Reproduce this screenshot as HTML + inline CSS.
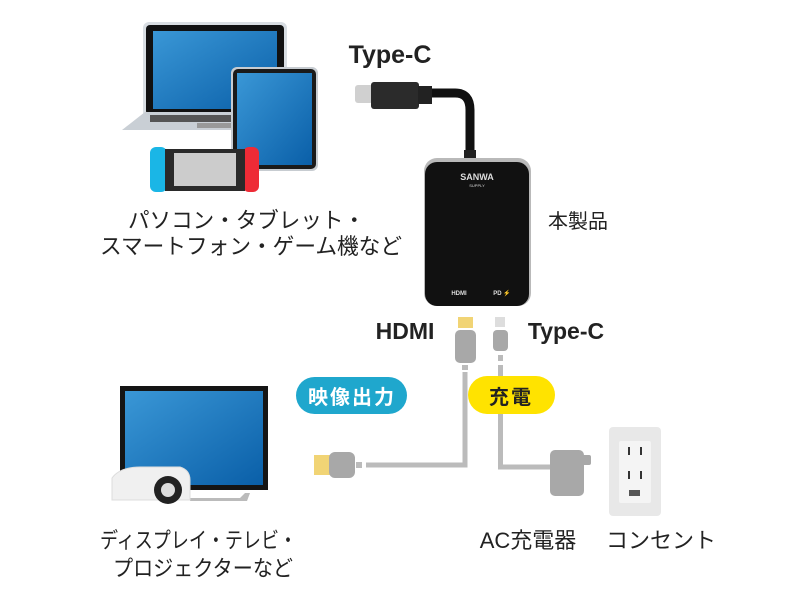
<!DOCTYPE html>
<html><head><meta charset="utf-8"><style>
body{margin:0;background:#fff}
svg{display:block}
text{font-family:"Liberation Sans","Noto Sans CJK JP",sans-serif;fill:#222}
</style></head><body>
<svg width="800" height="600" viewBox="0 0 800 600" xmlns="http://www.w3.org/2000/svg">
<defs>
<linearGradient id="bl" x1="0" y1="0" x2="1" y2="1"><stop offset="0" stop-color="#3a97d6"/><stop offset="1" stop-color="#0a5fa8"/></linearGradient>
</defs>
<!-- laptop -->
<rect x="143" y="22" width="144" height="96" rx="6" fill="#d8dde2"/>
<rect x="146" y="25" width="138" height="90" rx="4" fill="#111"/>
<rect x="153" y="31" width="124" height="78" fill="url(#bl)"/>
<path d="M145 112 L285 112 L300 130 L122 130 Z" fill="#c9cfd5"/>
<rect x="150" y="115" width="120" height="7" fill="#555"/>
<rect x="197" y="123" width="34" height="5" fill="#999"/>
<!-- tablet -->
<rect x="231" y="67" width="87" height="104" rx="6" fill="#c7ccd1"/>
<rect x="233" y="69" width="83" height="100" rx="5" fill="#1a1a1a"/>
<rect x="237" y="73" width="75" height="92" fill="url(#bl)"/>
<!-- switch -->
<rect x="150" y="147" width="17" height="45" rx="6" fill="#1ab6e6"/>
<rect x="243" y="147" width="16" height="45" rx="6" fill="#ee2b36"/>
<rect x="165" y="149" width="80" height="42" fill="#2a2a2a"/>
<rect x="174" y="153" width="62" height="33" fill="#ccc"/>
<!-- type-c cable -->
<path d="M418 93 L455 93 Q470 93 470 110 L470 160" stroke="#111" stroke-width="9" fill="none"/>
<rect x="355" y="85" width="18" height="18" rx="3" fill="#d0d0d0"/>
<rect x="371" y="82" width="48" height="27" rx="3" fill="#2b2b2b"/>
<rect x="418" y="86" width="14" height="18" fill="#222"/>
<rect x="464" y="150" width="12" height="12" fill="#222"/>
<!-- device -->
<rect x="424" y="158" width="107" height="148" rx="13" fill="#b9b9b9"/>
<rect x="425" y="162" width="104" height="144" rx="12" fill="#111"/>
<text x="477" y="180" font-size="9" font-weight="bold" style="fill:#ddd" text-anchor="middle">SANWA</text>
<text x="477" y="187" font-size="4" style="fill:#ddd" text-anchor="middle">SUPPLY</text>
<text x="459" y="295" font-size="6" font-weight="bold" style="fill:#ddd" text-anchor="middle">HDMI</text>
<text x="502" y="295" font-size="6" font-weight="bold" style="fill:#ddd" text-anchor="middle">PD ⚡</text>
<!-- labels top -->
<text x="390" y="63" font-size="25" font-weight="bold" text-anchor="middle">Type-C</text>
<text x="578" y="228" font-size="20" text-anchor="middle">本製品</text>
<text x="128" y="228" font-size="22" textLength="237" lengthAdjust="spacingAndGlyphs">パソコン・タブレット・</text>
<text x="100" y="254" font-size="22" textLength="302" lengthAdjust="spacingAndGlyphs">スマートフォン・ゲーム機など</text>
<!-- HDMI / type-c labels -->
<text x="405" y="339" font-size="23" font-weight="bold" text-anchor="middle">HDMI</text>
<text x="566" y="339" font-size="23" font-weight="bold" text-anchor="middle">Type-C</text>
<!-- HDMI connector -->
<rect x="458" y="317" width="15" height="11" fill="#f1d475"/>
<rect x="455" y="330" width="21" height="33" rx="5" fill="#a8a8a8"/>
<rect x="462" y="365" width="6" height="5" fill="#bbb"/>
<path d="M465 372 L465 465 L366 465" stroke="#bbb" stroke-width="5" fill="none"/>
<rect x="356" y="462" width="6" height="6" fill="#bbb"/>
<rect x="314" y="455" width="16" height="20" fill="#f1d475"/>
<rect x="329" y="452" width="26" height="26" rx="6" fill="#a8a8a8"/>
<!-- type-c connector -->
<rect x="495" y="317" width="10" height="10" fill="#ddd"/>
<rect x="493" y="330" width="15" height="21" rx="4" fill="#a8a8a8"/>
<rect x="498" y="355" width="5" height="6" fill="#bbb"/>
<path d="M500.5 365 L500.5 467 L560 467" stroke="#bbb" stroke-width="5" fill="none"/>
<!-- AC charger -->
<rect x="550" y="450" width="34" height="46" rx="5" fill="#a8a8a8"/>
<rect x="582" y="455" width="9" height="10" rx="2" fill="#a8a8a8"/>
<!-- outlet -->
<rect x="609" y="427" width="52" height="89" rx="4" fill="#e8e8e8"/>
<rect x="619" y="441" width="32" height="62" rx="2" fill="#f4f4f4"/>
<rect x="628" y="447" width="2" height="8" fill="#333"/><rect x="640" y="447" width="2" height="8" fill="#333"/>
<rect x="628" y="471" width="2" height="8" fill="#333"/><rect x="640" y="471" width="2" height="8" fill="#333"/>
<rect x="629" y="490" width="11" height="6" fill="#555"/>
<!-- bubbles -->
<rect x="296" y="377" width="111" height="37" rx="18.5" fill="#1fa7cd"/>
<text x="352" y="404" font-size="20" font-weight="bold" style="fill:#fff" text-anchor="middle" letter-spacing="2">映像出力</text>
<rect x="468" y="376" width="87" height="38" rx="19" fill="#ffe300"/>
<text x="511" y="404" font-size="20" font-weight="bold" text-anchor="middle" letter-spacing="2">充電</text>
<!-- TV -->
<rect x="120" y="386" width="148" height="104" fill="#151515"/>
<rect x="125" y="391" width="138" height="94" fill="url(#bl)"/>
<path d="M190 498 L240 498 L245 493 L250 493 L247 501 L190 501Z" fill="#bbb"/>
<!-- projector -->
<path d="M112 478 Q120 467 140 467 L180 467 Q190 470 190 480 L190 500 L112 500 Z" fill="#f0f0f0" stroke="#ddd"/>
<circle cx="168" cy="490" r="14" fill="#222"/>
<circle cx="168" cy="490" r="7" fill="#ddd"/>
<!-- bottom labels -->
<text x="100" y="548" font-size="22" textLength="197" lengthAdjust="spacingAndGlyphs">ディスプレイ・テレビ・</text>
<text x="113" y="576" font-size="22" textLength="180" lengthAdjust="spacingAndGlyphs">プロジェクターなど</text>
<text x="528" y="548" font-size="22" text-anchor="middle">AC充電器</text>
<text x="661" y="548" font-size="22" text-anchor="middle">コンセント</text>
</svg>
</body></html>
